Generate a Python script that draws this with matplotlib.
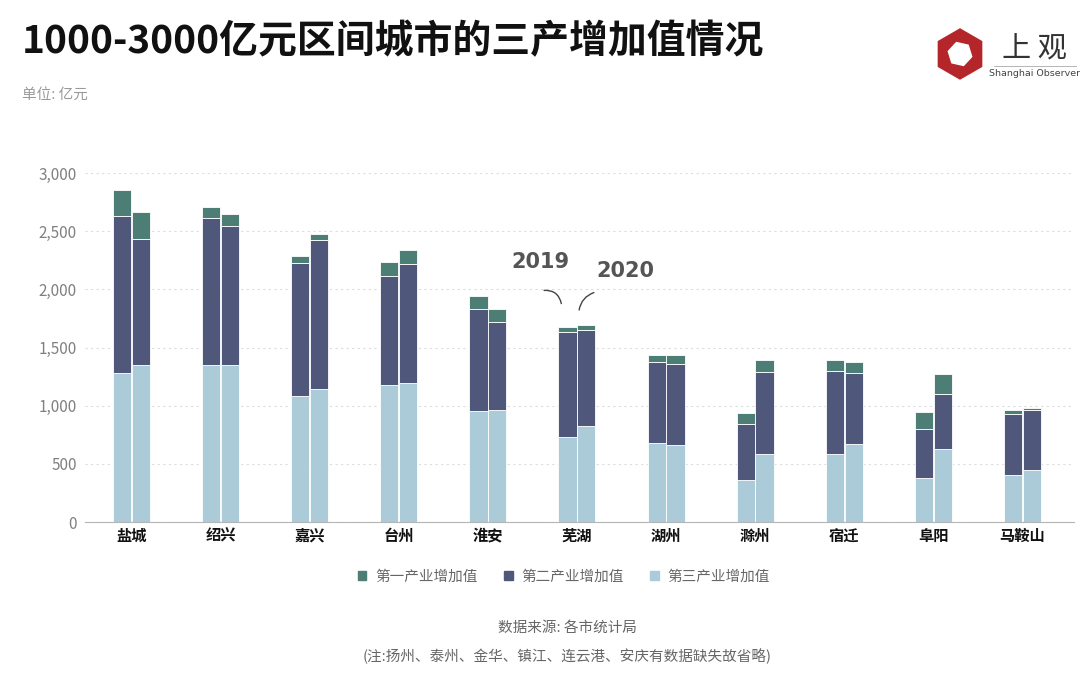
import numpy as np
import matplotlib
matplotlib.use("Agg")
import matplotlib.pyplot as plt
from matplotlib.patches import RegularPolygon, Patch
from matplotlib.ticker import FuncFormatter

plt.rcParams['font.family'] = ['Noto Sans CJK SC', 'DejaVu Sans']

cities = ['盐城', '绍兴', '嘉兴', '台州', '淮安', '芜湖', '湖州', '滁州', '宿迁', '阜阳', '马鞍山']

# 三产增加值 (亿元), 2019 / 2020
primary_2019 = [224, 95, 60, 121, 112, 43, 61, 95, 94, 146, 34]
secondary_2019 = [1345, 1259, 1138, 931, 879, 905, 698, 483, 716, 423, 526]
tertiary_2019 = [1284, 1353, 1086, 1181, 957, 733, 681, 362, 586, 379, 405]

primary_2020 = [233, 103, 52, 121, 112, 43, 78, 103, 95, 173, 18]
secondary_2020 = [1078, 1190, 1276, 1017, 759, 827, 698, 707, 612, 474, 517]
tertiary_2020 = [1353, 1353, 1146, 1198, 965, 828, 664, 586, 672, 629, 448]

c1 = '#4d7e75'
c2 = '#4f587b'
c3 = '#abcbd8'

fig = plt.figure(figsize=(10.8, 6.87), dpi=100)
ax = fig.add_axes([0.0787, 0.240, 0.916, 0.508])

x = np.arange(len(cities))
w = 0.205
off = 0.105
for xs, p, s, t in [(x - off, primary_2019, secondary_2019, tertiary_2019),
                    (x + off, primary_2020, secondary_2020, tertiary_2020)]:
    t = np.array(t)
    s = np.array(s)
    p = np.array(p)
    ax.bar(xs, t, w, color=c3, edgecolor='white', linewidth=0.6)
    ax.bar(xs, s, w, bottom=t, color=c2, edgecolor='white', linewidth=0.6)
    ax.bar(xs, p, w, bottom=t + s, color=c1, edgecolor='white', linewidth=0.6)

ax.set_xlim(-0.52, 10.58)
ax.set_ylim(0, 3000)
ax.set_yticks([0, 500, 1000, 1500, 2000, 2500, 3000])
ax.yaxis.set_major_formatter(FuncFormatter(lambda v, _: f'{int(v):,}'))
ax.set_xticks(x)
ax.set_xticklabels(cities, fontsize=11, fontweight='bold', color='#111111')
ax.tick_params(axis='x', length=0, pad=4)
ax.tick_params(axis='y', length=0, pad=6, labelsize=11, labelcolor='#808080')
ax.grid(axis='y', color='#dddddd', linestyle=(0, (2, 3)), linewidth=0.8)
ax.set_axisbelow(True)
for side in ['top', 'right', 'left']:
    ax.spines[side].set_visible(False)
ax.spines['bottom'].set_color('#b5b5b5')

# legend
handles = [Patch(color=c1), Patch(color=c2), Patch(color=c3)]
fig.legend(handles, ['第一产业增加值', '第二产业增加值', '第三产业增加值'],
           loc='center', bbox_to_anchor=(0.522, 0.161), ncol=3, frameon=False,
           fontsize=10.5, labelcolor='#666666', handlelength=0.6, handleheight=0.6,
           handletextpad=0.6, columnspacing=1.8)

# annotations for years
ax.annotate('', xy=(4.83, 1855), xytext=(4.6, 1990),
            arrowprops=dict(arrowstyle='-', color='#444444', lw=1,
                            connectionstyle='arc3,rad=-0.5'))
ax.annotate('', xy=(5.02, 1800), xytext=(5.22, 1980),
            arrowprops=dict(arrowstyle='-', color='#444444', lw=1,
                            connectionstyle='arc3,rad=0.35'))
fig.text(0.5, 1 - 262 / 687, '2019', fontsize=15, fontweight='bold', color='#555555',
         ha='center', va='center', family='DejaVu Sans')
fig.text(0.579, 1 - 271 / 687, '2020', fontsize=15, fontweight='bold', color='#555555',
         ha='center', va='center', family='DejaVu Sans')

# titles and notes
fig.text(0.02, 1 - 42 / 687, '1000-3000亿元区间城市的三产增加值情况', fontsize=28,
         fontweight='bold', color='#111111', ha='left', va='center')
fig.text(0.02, 1 - 95 / 687, '单位: 亿元', fontsize=10.5, color='#999999',
         ha='left', va='center')
fig.text(0.525, 1 - 628 / 687, '数据来源: 各市统计局', fontsize=10.5, color='#666666',
         ha='center', va='center')
fig.text(0.525, 1 - 656 / 687, '(注:扬州、泰州、金华、镇江、连云港、安庆有数据缺失故省略)',
         fontsize=10.5, color='#666666', ha='center', va='center')

# logo (axes units = pixels)
lax = fig.add_axes([930 / 1080, 1 - 85 / 687, 150 / 1080, 60 / 687])
lax.set_xlim(0, 150)
lax.set_ylim(0, 60)
lax.axis('off')
lax.add_patch(RegularPolygon((30, 31), 6, radius=25, orientation=0, color='#b5262b'))
lax.add_patch(RegularPolygon((30, 31), 6, radius=12, orientation=0.3, color='white'))
lax.text(104, 36, '上 观', fontsize=21, color='#333333', ha='center', va='center')
lax.plot([64, 146], [19, 19], color='#aaaaaa', lw=0.6)
lax.text(105, 12, 'Shanghai Observer', fontsize=6.8, color='#444444', ha='center',
         va='center', family='DejaVu Sans')

fig.savefig('out.png', dpi=100)
